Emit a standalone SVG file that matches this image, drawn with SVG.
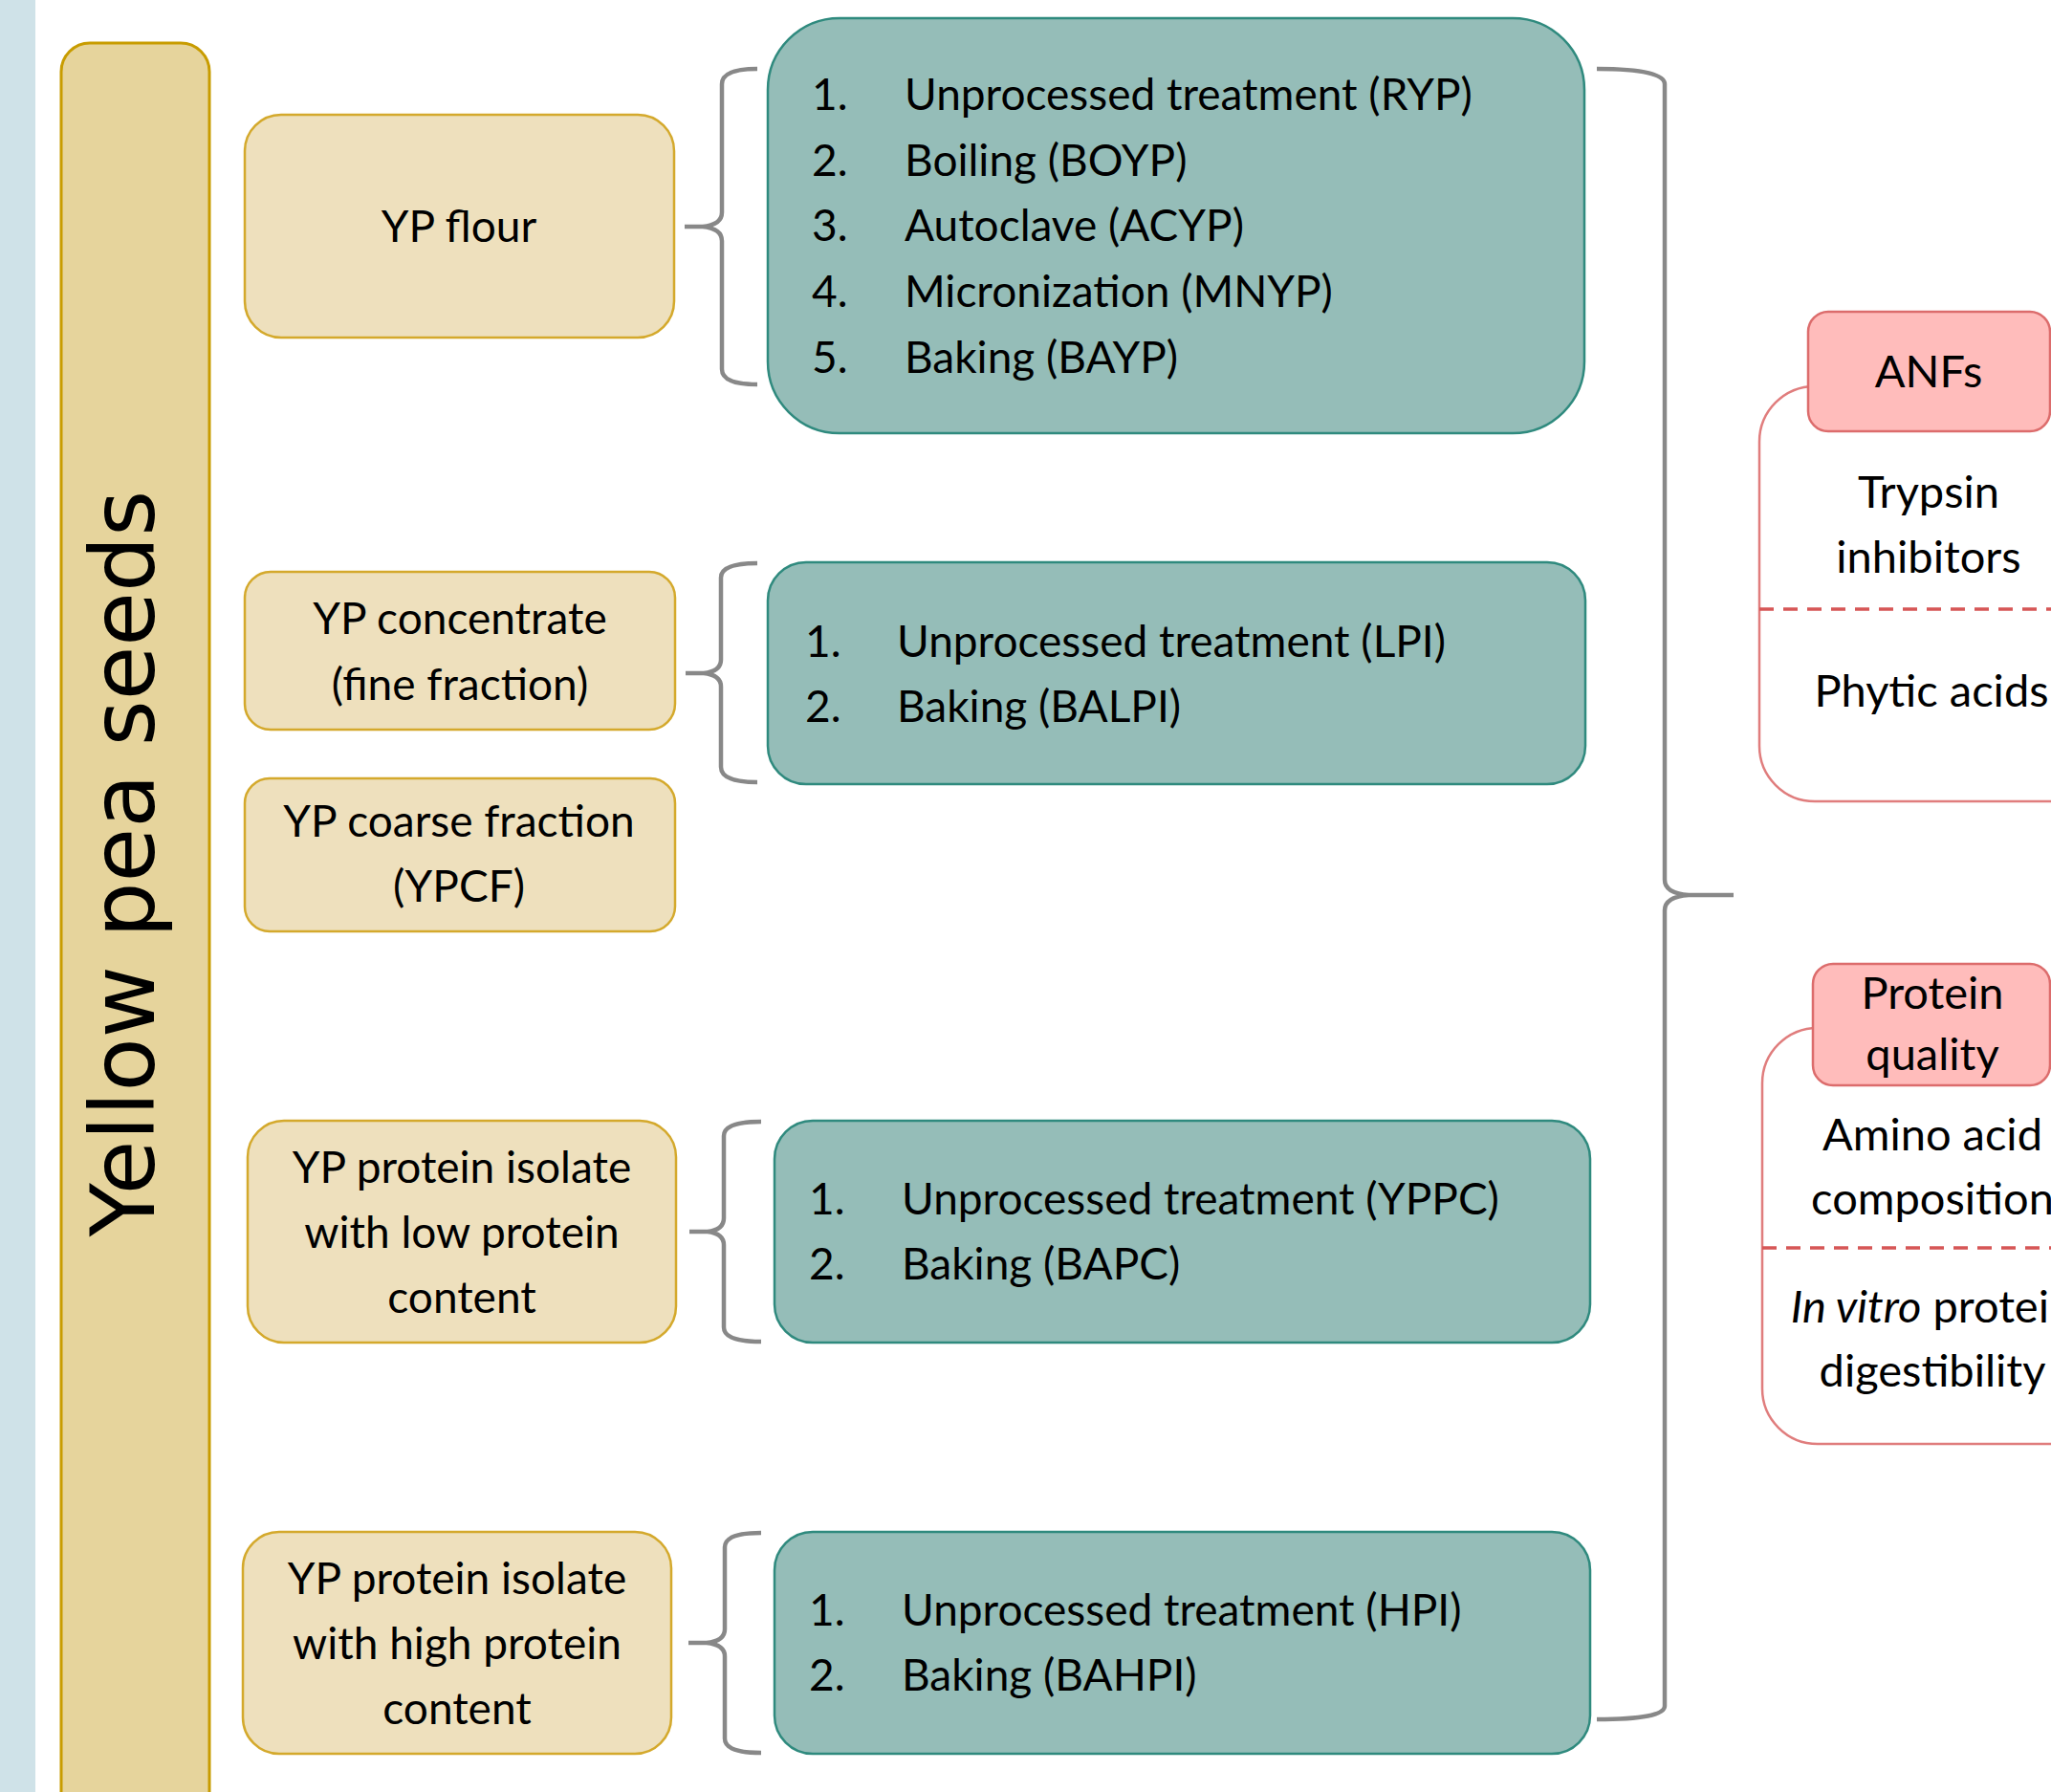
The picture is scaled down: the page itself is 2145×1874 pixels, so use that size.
<svg xmlns="http://www.w3.org/2000/svg" width="2145" height="1874" viewBox="0 0 2145 1874">
<style>
  .t { font-family: "Lato", "Liberation Sans", sans-serif; font-size: 46px; fill: #000; }
  .r { font-size: 47px; }
  .c { text-anchor: middle; }
  .cream { fill: #eee0bd; stroke: #d4a92c; stroke-width: 2.5; }
  .teal { fill: #95bdb8; stroke: #2f8a7e; stroke-width: 2.5; }
  .pink { fill: #ffbcbb; stroke: #dc6c6c; stroke-width: 2.5; }
  .cont { fill: #fff; stroke: #e07d7d; stroke-width: 2.5; }
  .dash { stroke: #d65656; stroke-width: 3.5; stroke-dasharray: 15 10; fill: none; }
  .brace { fill: none; stroke: #888; stroke-width: 4.5; stroke-linecap: butt; stroke-linejoin: round; }
</style>
<rect x="0" y="0" width="2145" height="1874" fill="#fff"/>
<rect x="0" y="0" width="37" height="1874" fill="#cfe2e8"/>

<g id="yellow-pea-seeds">
  <rect x="64" y="45" width="155" height="1900" rx="30" fill="#e6d49c" stroke="#c89c00" stroke-width="3"/>
  <text transform="translate(161,903) rotate(-90)" text-anchor="middle" style="font-family:'DejaVu Sans',Verdana,sans-serif;font-size:92px;fill:#000">Yellow pea seeds</text>
</g>

<g id="yp-flour">
  <rect class="cream" x="256" y="120" width="449" height="233" rx="38"/>
  <text class="t c" x="480" y="253">YP flour</text>
</g>
<g id="yp-concentrate">
  <rect class="cream" x="256" y="598" width="450" height="165" rx="27"/>
  <text class="t c" x="481" y="663">YP concentrate</text>
  <text class="t c" x="481" y="732">(fine fraction)</text>
</g>
<g id="yp-coarse">
  <rect class="cream" x="256" y="814" width="450" height="160" rx="26"/>
  <text class="t c" x="480" y="875">YP coarse fraction</text>
  <text class="t c" x="480" y="943">(YPCF)</text>
</g>
<g id="yp-isolate-low">
  <rect class="cream" x="259" y="1172" width="448" height="232" rx="38"/>
  <text class="t c" x="483" y="1237">YP protein isolate</text>
  <text class="t c" x="483" y="1305">with low protein</text>
  <text class="t c" x="483" y="1373">content</text>
</g>
<g id="yp-isolate-high">
  <rect class="cream" x="254" y="1602" width="448" height="232" rx="38"/>
  <text class="t c" x="478" y="1667">YP protein isolate</text>
  <text class="t c" x="478" y="1735">with high protein</text>
  <text class="t c" x="478" y="1803">content</text>
</g>

<g id="treatments-flour">
  <rect class="teal" x="803" y="19" width="854" height="434" rx="75"/>
  <text class="t" x="849" y="115">1.</text><text class="t" x="946" y="115">Unprocessed treatment (RYP)</text>
  <text class="t" x="849" y="184">2.</text><text class="t" x="946" y="184">Boiling (BOYP)</text>
  <text class="t" x="849" y="252">3.</text><text class="t" x="946" y="252">Autoclave (ACYP)</text>
  <text class="t" x="849" y="321">4.</text><text class="t" x="946" y="321">Micronization (MNYP)</text>
  <text class="t" x="849" y="390">5.</text><text class="t" x="946" y="390">Baking (BAYP)</text>
</g>
<g id="treatments-concentrate">
  <rect class="teal" x="803" y="588" width="855" height="232" rx="40"/>
  <text class="t" x="842" y="687">1.</text><text class="t" x="938" y="687">Unprocessed treatment (LPI)</text>
  <text class="t" x="842" y="755">2.</text><text class="t" x="938" y="755">Baking (BALPI)</text>
</g>
<g id="treatments-low">
  <rect class="teal" x="810" y="1172" width="853" height="232" rx="40"/>
  <text class="t" x="846" y="1270">1.</text><text class="t" x="943" y="1270">Unprocessed treatment (YPPC)</text>
  <text class="t" x="846" y="1338">2.</text><text class="t" x="943" y="1338">Baking (BAPC)</text>
</g>
<g id="treatments-high">
  <rect class="teal" x="810" y="1602" width="853" height="232" rx="40"/>
  <text class="t" x="846" y="1700">1.</text><text class="t" x="943" y="1700">Unprocessed treatment (HPI)</text>
  <text class="t" x="846" y="1768">2.</text><text class="t" x="943" y="1768">Baking (BAHPI)</text>
</g>

<g id="anfs">
  <rect class="cont" x="1840" y="404" width="400" height="434" rx="58"/>
  <line class="dash" x1="1840" y1="637" x2="2145" y2="637"/>
  <rect class="pink" x="1891" y="326" width="253" height="125" rx="21"/>
  <text class="t r c" x="2017" y="405">ANFs</text>
  <text class="t r c" x="2017" y="531">Trypsin</text>
  <text class="t r c" x="2017" y="599">inhibitors</text>
  <text class="t r c" x="2020" y="739">Phytic acids</text>
</g>
<g id="protein-quality">
  <rect class="cont" x="1843" y="1075" width="400" height="435" rx="58"/>
  <line class="dash" x1="1843" y1="1305" x2="2145" y2="1305"/>
  <rect class="pink" x="1896" y="1008" width="248" height="127" rx="21"/>
  <text class="t r c" x="2021" y="1055">Protein</text>
  <text class="t r c" x="2021" y="1119">quality</text>
  <text class="t r c" x="2021" y="1203">Amino acid</text>
  <text class="t r c" x="2021" y="1270">composition</text>
  <text class="t r c" x="2021" y="1383"><tspan font-style="italic">In vitro</tspan> protein</text>
  <text class="t r c" x="2021" y="1450">digestibility</text>
</g>

<g id="connectors">
  <path class="brace" d="M792,72 Q755,72 755,88 L755,222 Q755,235 735,237 L716,237 M735,237 Q755,239 755,252 L755,386 Q755,402 792,402"/>
  <path class="brace" d="M792,589 Q754,589 754,604 L754,690 Q754,702 736,704 L717,704 M736,704 Q754,706 754,718 L754,802 Q754,818 792,818"/>
  <path class="brace" d="M796,1173 Q757,1173 757,1188 L757,1274 Q757,1286 740,1288 L721,1288 M740,1288 Q757,1290 757,1302 L757,1388 Q757,1403 796,1403"/>
  <path class="brace" d="M796,1603 Q758,1603 758,1618 L758,1704 Q758,1716 739,1718 L720,1718 M739,1718 Q758,1720 758,1732 L758,1818 Q758,1833 796,1833"/>
  <path class="brace" d="M1670,72 Q1741,72 1741,88 L1741,920 Q1741,934 1766,936 L1813,936 M1766,936 Q1741,938 1741,952 L1741,1784 Q1741,1798 1670,1798"/>
</g>
</svg>
